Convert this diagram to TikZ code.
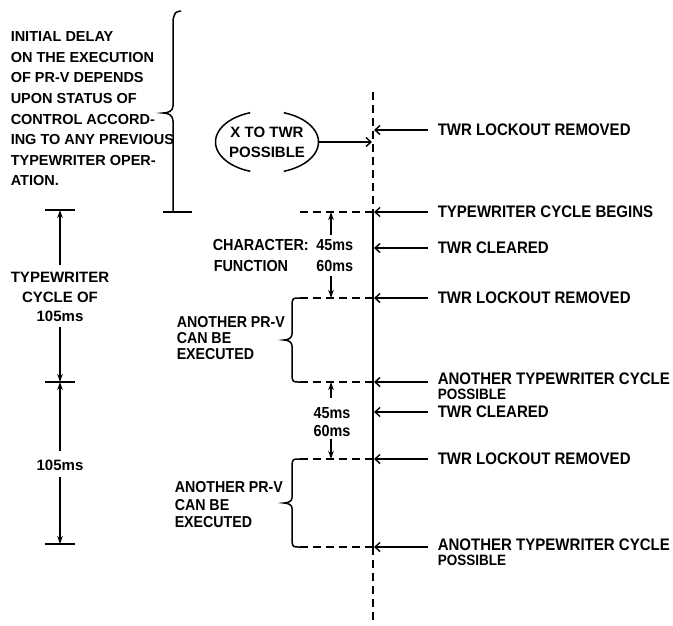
\documentclass[tikz,border=0pt]{standalone}
\usepackage{fontspec}
\setmainfont{Liberation Sans}
\newfontfamily\cond{Liberation Sans}[FakeStretch=0.9]
\usetikzlibrary{arrows.meta}
\begin{document}
\begin{tikzpicture}[x=1pt,y=-1pt, line width=1.5pt,
  lbl/.style={anchor=west, inner sep=0pt, font=\cond\fontsize{16.7}{16.7}\selectfont\bfseries},
  lbls/.style={anchor=west, inner sep=0pt, font=\cond\fontsize{15}{15}\selectfont\bfseries},
  sm/.style={inner sep=0pt, font=\fontsize{14}{16}\selectfont\bfseries},
  md/.style={inner sep=0pt, font=\cond\fontsize{16}{16}\selectfont\bfseries},
  barb/.style={-{Straight Barb[length=5pt,width=9pt,line width=1.4pt]}},
  dim/.style={-{Stealth[length=8pt,width=5.5pt]}},
  dsh/.style={dash pattern=on 8pt off 5pt}]
\useasboundingbox (0,0) rectangle (673,625);
% vertical time line
\coordinate (vtop) at (373,92);
\coordinate (vs) at (373,212);
\coordinate (ve) at (373,547);
\coordinate (vbot) at (373,622);
\draw[dsh] (vtop) -- (vs);
\draw (vs) -- (ve);
\draw[dsh] (ve) -- (vbot);
% right labels
\node[lbl] (r1) at (437,130) {TWR LOCKOUT REMOVED};
\node[lbl] (r2) at (437,212) {TYPEWRITER CYCLE BEGINS};
\node[lbl] (r3) at (437,248) {TWR CLEARED};
\node[lbl] (r4) at (437,298) {TWR LOCKOUT REMOVED};
\node[lbl] (r5) at (437,379) {ANOTHER TYPEWRITER CYCLE};
\node[lbls] (r5b) at (437,394) {POSSIBLE};
\node[lbl] (r6) at (437,412) {TWR CLEARED};
\node[lbl] (r7) at (437,459) {TWR LOCKOUT REMOVED};
\node[lbl] (r8) at (437,545) {ANOTHER TYPEWRITER CYCLE};
\node[lbls] (r8b) at (437,560) {POSSIBLE};
\foreach \n/\yy in {r1/0,r2/0,r3/0,r4/0,r5/3,r6/0,r7/0,r8/2}
  \draw[barb] ([xshift=-9pt,yshift=-\yy pt]\n.west) -- ([xshift=1pt,yshift=-\yy pt]\n.west -| vs);
% X to TWR
\node[sm, align=center, font=\fontsize{15}{20}\selectfont\bfseries] (x) at (267,142) {X TO TWR\\POSSIBLE};
\draw ([shift={(-71:51.5pt and 31pt)}]x.center) arc[start angle=-71,end angle=71,x radius=51.5pt,y radius=31pt];
\draw ([shift={(109:51.5pt and 31pt)}]x.center) arc[start angle=109,end angle=251,x radius=51.5pt,y radius=31pt];
\draw[-{Straight Barb[length=5pt,width=9pt,line width=1.4pt]}] ([xshift=51.5pt]x.center) -- ([xshift=-1pt]x.center -| vs);
% big brace and text
\node[sm, anchor=north west, align=left, font=\fontsize{14.5}{20.6}\selectfont\bfseries] (init) at (10,31)
 {INITIAL DELAY\\ON THE EXECUTION\\OF PR-V DEPENDS\\UPON STATUS OF\\CONTROL ACCORD-\\ING TO ANY PREVIOUS\\TYPEWRITER OPER-\\ATION.};
\draw (181,11) .. controls (175,12) .. (173,20) -- (173,106) .. controls (173,111) and (168,113) .. (163,113)
  .. controls (168,113) and (173,115) .. (173,121) -- (173,212);
\coordinate (bb) at (177,212);
\draw ([xshift=-14pt]bb) -- ([xshift=15pt]bb);
\coordinate (d0) at (300,212);
\draw[dsh] (d0) -- (d0 -| vs);
% first dimension
\node[md, anchor=west] (ch) at (212,245) {CHARACTER:};
\node[md, anchor=east] (c45) at (354,245) {45ms};
\node[md, anchor=west] (fn) at (213,266) {FUNCTION};
\node[md, anchor=east] (c60) at (354,266) {60ms};
\coordinate (da) at (331,235);
\coordinate (db) at (331,276);
\draw[dim] (da) -- (da |- d0);
\coordinate (d1) at (300,298);
\draw[dim] (db) -- (db |- d1);
% brace 1
\draw (300,298) .. controls (293,298) .. (292,303) -- (292,334) .. controls (292,338) and (288,340) .. (284,340)
  .. controls (288,340) and (292,342) .. (292,346) -- (292,377) .. controls (293,382) .. (300,382);
\coordinate (d2) at (300,382);
\draw[dsh] (d1) -- (d1 -| vs);
\draw[dsh] (d2) -- (d2 -| vs);
\node[md, anchor=north west, align=left, font=\cond\fontsize{15.8}{16}\selectfont\bfseries] (ap1) at (176,316) {ANOTHER PR-V\\CAN BE\\EXECUTED};
% second dimension
\node[md, align=center, font=\cond\fontsize{16}{18}\selectfont\bfseries] (m2) at (332,422) {45ms\\60ms};
\coordinate (dc) at (331,398);
\coordinate (dd) at (331,439);
\coordinate (d3) at (300,459);
\draw[dim] (dc) -- (dc |- d2);
\draw[dim] (dd) -- (dd |- d3);
% brace 2
\draw (300,459) .. controls (293,459) .. (292,464) -- (292,498) .. controls (292,501) and (288,503) .. (284,503)
  .. controls (288,503) and (292,505) .. (292,508) -- (292,542) .. controls (293,547) .. (300,547);
\coordinate (d4) at (300,547);
\draw[dsh] (d3) -- (d3 -| vs);
\draw[dsh] (d4) -- (d4 -| vs);
\node[md, anchor=north west, align=left, font=\cond\fontsize{15.8}{17.5}\selectfont\bfseries] (ap2) at (174,481) {ANOTHER PR-V\\CAN BE\\EXECUTED};
% left dimension
\coordinate (t1) at (60,210);
\coordinate (t2) at (60,382);
\coordinate (t3) at (60,544);
\foreach \t in {t1,t2,t3} \draw ([xshift=-15pt]\t) -- ([xshift=15pt]\t);
\node[sm, align=center, font=\fontsize{15}{19.5}\selectfont\bfseries] (tc) at (60,297) {TYPEWRITER\\CYCLE OF\\105ms};
\node[sm, font=\fontsize{15}{15}\selectfont\bfseries] (t105) at (60,465) {105ms};
\coordinate (la) at (60,265);
\coordinate (lb) at (60,327);
\coordinate (lc) at (60,451);
\coordinate (ld) at (60,477);
\draw[dim] (la) -- (t1);
\draw[dim] (lb) -- (t2);
\draw[dim] (lc) -- (t2);
\draw[dim] (ld) -- (t3);
\end{tikzpicture}
\end{document}
